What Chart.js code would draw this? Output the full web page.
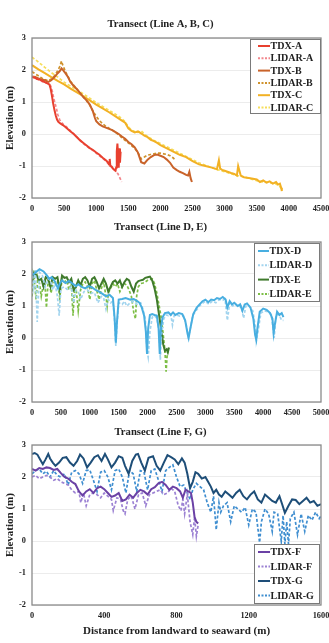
<!DOCTYPE html>
<html>
<head>
<meta charset="utf-8">
<script src="https://cdn.jsdelivr.net/npm/chart.js@4.4.1/dist/chart.umd.min.js"></script>
<style>
  html, body { margin: 0; padding: 0; background: #fff; }
  body { width: 329px; height: 643px; position: relative; overflow: hidden; }
  .box { position: absolute; left: 0; width: 329px; }
  #b1 { top: 0; height: 215px; }
  #b2 { top: 215px; height: 207px; }
  #b3 { top: 422px; height: 221px; }
</style>
</head>
<body>
<div class="box" id="b1"><canvas id="c1"></canvas></div>
<div class="box" id="b2"><canvas id="c2"></canvas></div>
<div class="box" id="b3"><canvas id="c3"></canvas></div>
<script>
// ---- Transect A, B, C ----
const tdxAx = [0,40,80,120,160,200,240,270,290,310,330,350,370,390,410,440,480,520,560,600,650,700,750,800,850,900,950,1000,1050,1100,1150,1180,1200,1210,1220,1240,1260,1280,1300,1310,1320,1330,1340,1350,1360,1370,1380];
const tdxAy = [1.78,1.76,1.72,1.70,1.66,1.62,1.58,1.55,1.42,1.2,0.95,0.75,0.58,0.45,0.38,0.33,0.28,0.22,0.15,0.08,0.0,-0.1,-0.2,-0.28,-0.36,-0.44,-0.5,-0.58,-0.65,-0.74,-0.82,-0.88,-0.95,-0.78,-1.0,-1.02,-1.08,-1.12,-1.15,-1.05,-0.55,-0.3,-0.65,-1.05,-0.45,-0.9,-0.55];
const lidarAx = [0,50,100,150,200,250,280,300,320,340,360,380,400,430,460,500,550,600,650,700,750,800,850,900,950,1000,1050,1100,1150,1200,1250,1300,1340,1370,1396];
const lidarAy = [1.8,1.75,1.7,1.65,1.6,1.58,1.55,1.45,1.3,1.1,0.95,0.8,0.62,0.45,0.36,0.28,0.2,0.1,0.0,-0.1,-0.2,-0.3,-0.38,-0.45,-0.52,-0.6,-0.68,-0.76,-0.85,-0.95,-1.05,-1.15,-1.25,-1.38,-1.5];
const tdxBx = [0,50,100,150,200,250,300,350,400,430,460,490,520,560,600,650,700,750,800,850,900,950,980,1000,1050,1100,1150,1200,1250,1300,1350,1400,1450,1500,1550,1600,1650,1700,1750,1800,1850,1900,1950,2000,2050,2100,2150,2200,2250,2300,2350,2400,2430,2450,2470,2490];
const tdxBy = [1.8,1.78,1.74,1.7,1.68,1.62,1.68,1.78,1.9,1.96,2.05,1.98,1.9,1.78,1.62,1.5,1.4,1.28,1.15,1.05,0.92,0.7,0.5,0.4,0.3,0.24,0.2,0.16,0.12,0.06,0.0,-0.08,-0.15,-0.25,-0.32,-0.42,-0.58,-0.88,-0.92,-0.8,-0.72,-0.66,-0.64,-0.68,-0.72,-0.8,-0.9,-1.05,-1.12,-1.18,-1.22,-1.28,-1.3,-1.18,-1.38,-1.5];
const lidarBx = [0,50,100,150,200,250,300,350,400,430,460,480,500,520,560,600,650,700,750,800,850,900,950,1000,1050,1100,1150,1200,1250,1300,1350,1400,1450,1500,1550,1600,1650,1700,1750,1800,1850,1900,1950,2000,2050,2100,2150,2200,2230];
const lidarBy = [1.95,1.88,1.82,1.75,1.7,1.66,1.72,1.82,1.98,2.1,2.28,2.15,2.05,1.95,1.8,1.65,1.52,1.4,1.28,1.16,1.04,0.9,0.72,0.55,0.42,0.32,0.24,0.18,0.12,0.05,-0.02,-0.12,-0.2,-0.28,-0.36,-0.45,-0.58,-0.78,-0.72,-0.66,-0.64,-0.62,-0.6,-0.6,-0.62,-0.64,-0.68,-0.75,-0.82];
const tdxCx = [0,100,200,300,400,500,600,700,800,900,1000,1100,1200,1300,1400,1450,1500,1550,1600,1650,1700,1750,1800,1850,1900,1950,2000,2100,2200,2300,2400,2500,2600,2700,2800,2880,2910,2930,2960,3000,3100,3150,3190,3210,3250,3300,3400,3500,3550,3600,3650,3700,3750,3800,3830,3860,3880,3890];
const tdxCy = [2.15,2.02,1.9,1.78,1.66,1.55,1.42,1.3,1.18,1.05,0.92,0.8,0.68,0.55,0.42,0.35,0.18,0.1,0.05,0.08,0.02,-0.05,-0.1,-0.18,-0.22,-0.28,-0.35,-0.45,-0.55,-0.65,-0.72,-0.85,-0.95,-1.0,-1.05,-1.1,-0.82,-1.08,-1.12,-1.15,-1.22,-1.25,-1.3,-1.0,-1.3,-1.35,-1.38,-1.42,-1.5,-1.45,-1.52,-1.48,-1.55,-1.5,-1.58,-1.55,-1.68,-1.78];
const lidarCx = [0,100,200,300,400,500,600,700,800,900,1000,1100,1200,1300,1400,1450,1500,1550,1600,1650,1700,1750,1800,1900,2000,2100,2200,2300,2400,2500,2600,2700,2800,2900,3000,3100,3200,3300,3400,3500,3600,3700,3800,3850,3880];
const lidarCy = [2.4,2.25,2.08,1.92,1.78,1.62,1.5,1.38,1.25,1.12,0.98,0.86,0.74,0.62,0.48,0.38,0.22,0.12,0.08,0.05,0.1,0.0,-0.08,-0.2,-0.3,-0.4,-0.5,-0.6,-0.7,-0.8,-0.9,-0.98,-1.05,-1.12,-1.18,-1.24,-1.3,-1.34,-1.4,-1.46,-1.5,-1.52,-1.56,-1.62,-1.7];

// ---- Transect D, E ----
const tdxDx = [0,60,130,200,260,300,340,400,450,480,520,580,640,700,760,800,860,920,980,1040,1100,1160,1220,1280,1340,1400,1430,1450,1470,1500,1560,1620,1700,1760,1820,1860,1900,1940,1970,1990,2010,2040,2080,2120,2160,2190,2210,2230,2260,2300,2360,2400,2440,2480,2540,2600,2650,2690,2710,2740,2790,2850,2900,2950,3000,3050,3100,3150,3200,3250,3300,3350,3380,3420,3460,3500,3560,3600,3640,3680,3720,3780,3830,3860,3880,3900,3940,4000,4060,4120,4160,4180,4200,4240,4280,4320,4350];
const tdxDy = [1.95,2.05,2.15,2.08,1.95,1.85,1.9,1.75,1.55,1.7,1.8,1.72,1.78,1.7,1.62,1.68,1.6,1.55,1.62,1.58,1.5,1.45,1.38,1.3,1.35,1.25,0.6,-0.15,0.5,1.2,1.22,1.25,1.2,1.22,1.15,1.1,0.95,0.7,0.2,-0.5,0.3,0.72,0.75,0.72,0.7,0.3,-0.5,0.3,0.65,0.78,0.8,0.72,0.8,0.72,0.78,0.75,0.55,0.15,0.0,0.3,0.75,0.95,1.05,1.15,1.2,1.12,1.2,1.18,1.25,1.22,1.28,1.2,0.95,1.15,1.05,1.1,1.0,1.05,0.85,1.05,1.08,0.95,0.6,0.1,-0.05,0.3,0.82,0.92,0.88,0.78,0.6,0.15,0.4,0.82,0.72,0.78,0.65];
const lidarDx = [0,30,60,90,130,180,230,280,320,360,400,440,470,500,560,620,680,720,760,800,840,900,960,1020,1080,1140,1200,1240,1280,1320,1360,1400,1430,1450,1470,1500,1560,1600,1640,1700,1760,1820,1880,1920,1960,1990,2010,2040,2080,2120,2160,2200,2220,2240,2280,2320,2360,2400,2430,2460,2500,2560,2620,2670,2700,2730,2780,2850,2900,2960,3000,3060,3120,3180,3240,3300,3340,3380,3420,3470,3520,3580,3620,3660,3700,3760,3820,3860,3880,3910,3960,4020,4080,4140,4170,4190,4220,4270,4320,4350];
const lidarDy = [2.1,1.6,2.15,0.5,2.05,1.95,1.6,1.85,1.8,1.5,1.7,1.3,0.7,1.55,1.6,1.5,1.6,1.1,1.5,1.45,1.2,1.45,1.5,1.4,1.42,1.1,1.3,1.25,0.9,1.2,1.1,1.15,0.5,-0.25,0.4,1.1,1.05,1.15,1.0,1.1,1.15,1.05,1.1,0.9,0.6,-0.4,-0.6,0.2,0.65,0.7,0.62,0.2,-0.68,0.1,0.6,0.72,0.7,0.75,0.4,0.7,0.72,0.68,0.7,0.4,0.05,0.2,0.7,0.88,1.0,1.1,1.15,1.05,1.15,1.1,1.2,1.18,1.22,0.55,1.1,1.0,1.05,0.95,1.0,0.62,1.0,1.0,0.85,0.4,-0.1,0.2,0.78,0.85,0.82,0.72,0.3,0.0,0.7,0.75,0.55,0.55];
const tdxEx = [0,40,80,120,160,200,240,280,320,360,400,440,480,520,560,600,640,680,720,760,800,840,880,920,960,1000,1040,1080,1120,1160,1200,1240,1280,1320,1360,1400,1440,1480,1520,1560,1600,1640,1680,1720,1760,1800,1840,1880,1920,1960,2000,2040,2080,2120,2160,2200,2240,2270,2300,2330,2350,2370];
const tdxEy = [1.75,2.05,1.95,1.8,1.85,1.6,1.9,1.85,1.6,1.9,1.85,1.9,1.5,1.95,1.88,1.9,1.75,1.85,1.5,1.6,1.8,1.65,1.85,1.9,1.8,1.6,1.85,1.9,1.75,1.55,1.7,1.85,1.7,1.45,1.6,1.75,1.8,1.7,1.8,1.6,1.75,1.85,1.8,1.6,1.45,1.7,1.78,1.8,1.82,1.88,1.9,1.92,1.8,1.55,1.2,0.7,0.2,-0.2,-0.4,-0.35,-0.45,-0.3];
const lidarEx = [0,20,40,70,100,130,160,190,220,250,280,300,330,360,400,440,480,520,560,600,640,680,710,730,760,800,840,880,920,960,1000,1040,1080,1120,1160,1200,1240,1280,1300,1320,1360,1400,1440,1480,1520,1560,1600,1640,1680,1720,1760,1790,1810,1840,1880,1920,1960,2000,2040,2080,2120,2160,2200,2240,2270,2300,2320,2340,2360];
const lidarEy = [1.3,2.0,1.85,1.2,1.9,1.7,1.3,1.6,1.8,0.95,1.8,1.75,1.4,1.7,1.75,1.8,1.25,1.85,1.75,1.8,1.5,1.7,0.7,1.4,1.6,0.85,1.5,1.7,1.75,1.6,1.2,1.7,1.8,1.5,1.2,1.55,1.75,1.3,1.0,1.4,1.55,1.7,1.6,1.7,1.45,1.6,1.7,1.65,1.5,1.3,0.8,0.6,1.3,1.6,1.7,1.72,1.75,1.8,1.82,1.85,1.7,1.4,1.0,0.6,0.1,-0.4,-1.05,-0.5,-0.35];

// ---- Transect F, G ----
const tdxFx = [0,20,40,60,80,100,120,140,160,180,200,220,240,260,280,300,320,340,360,380,400,420,440,460,480,500,520,540,560,580,600,620,640,660,680,700,720,740,760,780,800,820,835,850,865,880,890,900,910,920];
const tdxFy = [2.25,2.2,2.28,2.25,2.3,2.28,2.22,2.25,2.12,2.0,1.95,1.85,1.78,1.55,1.42,1.55,1.62,1.5,1.65,1.7,1.62,1.5,1.38,1.42,1.5,1.25,1.3,1.45,1.35,1.5,1.6,1.55,1.45,1.62,1.68,1.8,1.85,1.75,1.6,1.7,1.65,1.55,1.35,1.6,1.55,1.5,1.2,0.75,0.6,0.55];
const lidarFx = [0,20,40,60,80,100,120,140,160,180,200,220,240,260,270,285,300,320,340,360,380,400,420,440,450,470,490,505,515,530,550,570,590,610,630,650,670,690,710,730,750,770,790,810,825,835,845,860,875,890,900,910,920];
const lidarFy = [2.0,2.05,1.95,2.0,2.05,2.0,1.9,1.95,1.85,1.8,1.75,1.6,1.5,1.55,1.2,1.5,1.1,1.45,1.5,1.45,1.35,1.5,1.4,1.3,0.95,1.35,1.3,0.95,0.85,1.3,1.4,1.0,1.45,1.5,1.1,1.45,1.5,1.55,1.6,1.45,1.5,1.65,1.55,1.1,0.95,1.3,0.85,1.45,0.6,0.2,0.75,0.15,0.5];
const tdxGx = [0,15,30,45,60,75,90,100,115,130,150,170,190,210,230,250,266,285,305,325,345,365,385,404,420,440,460,480,500,515,535,555,575,587,605,625,645,670,690,710,730,750,770,790,810,830,845,860,875,890,905,920,940,960,975,990,1005,1020,1035,1050,1070,1090,1110,1130,1150,1170,1190,1210,1230,1250,1270,1290,1310,1330,1350,1370,1385,1400,1420,1440,1460,1480,1500,1520,1540,1560,1580,1600];
const tdxGy = [2.72,2.75,2.7,2.55,2.4,2.55,2.72,2.58,2.45,2.35,2.45,2.6,2.62,2.45,2.35,2.5,2.7,2.58,2.3,2.45,2.62,2.68,2.5,2.72,2.55,2.3,2.45,2.65,2.6,2.35,2.1,2.5,2.7,2.72,2.45,2.2,2.6,2.65,2.35,2.2,2.45,2.68,2.62,2.55,2.4,2.58,2.45,2.1,1.65,1.85,2.15,2.1,1.95,2.0,1.85,1.7,1.5,1.6,1.45,1.38,1.55,1.45,1.35,1.5,1.6,1.4,1.3,1.45,1.55,1.3,1.2,1.45,1.35,1.25,1.2,1.4,1.15,0.88,1.1,1.3,1.28,1.15,1.25,1.35,1.2,1.25,1.1,1.15];
const lidarGx = [0,20,40,60,80,100,120,140,160,180,200,220,240,260,280,300,320,340,360,380,400,420,440,460,480,500,520,540,560,580,600,620,640,660,680,700,720,740,760,780,800,820,840,860,875,890,910,930,950,970,990,1005,1020,1035,1045,1060,1080,1100,1120,1140,1160,1180,1200,1220,1240,1260,1270,1290,1310,1330,1340,1360,1380,1390,1400,1410,1420,1430,1450,1470,1490,1510,1530,1550,1570,1590,1600];
const lidarGy = [2.1,2.2,2.25,2.1,2.18,2.0,2.2,2.05,2.0,2.1,1.75,2.15,2.2,2.1,1.8,2.2,2.22,1.9,1.55,2.15,2.2,2.0,1.6,2.2,2.25,2.0,1.5,2.2,2.1,1.55,2.2,2.15,1.6,2.2,2.25,1.9,1.55,2.2,2.3,2.38,2.0,1.7,1.75,1.5,1.3,1.6,1.8,1.7,1.6,1.2,0.9,1.4,0.35,1.2,0.9,1.1,1.2,0.6,1.1,1.0,0.9,1.05,0.5,1.0,0.9,-0.05,0.6,1.0,0.85,0.3,0.9,0.85,0.0,0.8,-0.1,0.6,-0.1,0.7,0.9,0.2,0.85,0.3,0.8,0.65,0.9,0.7,0.78];

const yTicks = [-2, -1, 0, 1, 2, 3];

const SERIF = "'Liberation Serif', 'Times New Roman', serif";
const INK = '#222';

function pts(xs, ys) {
  return xs.map((x, i) => ({ x: x, y: ys[i] }));
}

function tdx(label, xs, ys, color) {
  return { label, data: pts(xs, ys), borderColor: color, backgroundColor: color,
           borderWidth: 2, pointRadius: 0, tension: 0 };
}
function lidar(label, xs, ys, color) {
  return { label, data: pts(xs, ys), borderColor: color, backgroundColor: color,
           borderWidth: 1.7, borderDash: [3, 2], pointRadius: 0, tension: 0 };
}

// grey frame round the plot area
const framePlugin = {
  id: 'frame',
  afterDatasetsDraw(chart) {
    const a = chart.chartArea, ctx = chart.ctx;
    ctx.save();
    ctx.strokeStyle = '#8a8a8a';
    ctx.lineWidth = 1.3;
    ctx.strokeRect(a.left, a.top, a.right - a.left, a.bottom - a.top);
    ctx.restore();
  }
};

// boxed legend inside the plot area
const boxLegend = {
  id: 'boxLegend',
  afterDraw(chart, args, opts) {
    const a = chart.chartArea, ctx = chart.ctx;
    const sets = chart.data.datasets;
    const w = opts.width, h = opts.height;
    const x0 = a.right - opts.right - w;
    const y0 = opts.bottom != null ? a.bottom - opts.bottom - h : a.top + opts.top;
    ctx.save();
    ctx.fillStyle = '#fff';
    ctx.fillRect(x0, y0, w, h);
    ctx.strokeStyle = '#7a7a7a';
    ctx.lineWidth = 1;
    ctx.strokeRect(x0 + 0.5, y0 + 0.5, w, h);
    ctx.font = 'bold 10px ' + SERIF;
    ctx.textBaseline = 'middle';
    sets.forEach((ds, i) => {
      const cy = y0 + opts.first + i * opts.step;
      ctx.strokeStyle = ds.borderColor;
      ctx.lineWidth = 2;
      ctx.setLineDash(ds.borderDash ? [2, 1.5] : []);
      ctx.beginPath();
      ctx.moveTo(x0 + opts.lineFrom, cy);
      ctx.lineTo(x0 + opts.lineTo, cy);
      ctx.stroke();
      ctx.setLineDash([]);
      ctx.fillStyle = INK;
      ctx.fillText(ds.label, x0 + opts.lineTo + 0.5, cy + 0.5);
    });
    ctx.restore();
  }
};

function makeChart(id, cfg) {
  return new Chart(document.getElementById(id), {
    type: 'line',
    data: { datasets: cfg.datasets },
    options: {
      responsive: true,
      maintainAspectRatio: false,
      animation: false,
      layout: { padding: { left: 0, right: 8, top: 0, bottom: 0 } },
      plugins: {
        legend: { display: false },
        tooltip: { enabled: false },
        title: {
          display: true, text: cfg.title, color: INK,
          font: { family: SERIF, size: 10.7, weight: 'bold' },
          padding: cfg.titlePad
        },
        boxLegend: cfg.legend
      },
      scales: {
        x: {
          type: 'linear', min: 0, max: cfg.xMax,
          afterFit: s => { s.height = cfg.xHeight; s.paddingRight = 8; s.paddingLeft = 0; },
          afterBuildTicks: s => { s.ticks = cfg.xTicks.map(v => ({ value: v })); },
          grid: { display: false, drawTicks: false },
          border: { display: false },
          ticks: { color: INK, padding: 6, maxRotation: 0, autoSkip: false,
                   callback: v => String(v),
                   font: { family: SERIF, size: 8.3, weight: 'bold' } },
          title: cfg.xTitle ? {
            display: true, text: cfg.xTitle, color: INK,
            font: { family: SERIF, size: 11, weight: 'bold' },
            padding: { top: 0, bottom: 5.4 }
          } : { display: false }
        },
        y: {
          min: -2, max: 3,
          afterFit: s => { s.width = 32; },
          afterBuildTicks: s => { s.ticks = yTicks.map(v => ({ value: v })); },
          grid: { color: '#ececec', lineWidth: 1, drawTicks: false },
          border: { display: false },
          ticks: { color: INK, padding: 6, callback: v => String(v),
                   font: { family: SERIF, size: 8.3, weight: 'bold' } },
          title: {
            display: true, text: 'Elevation (m)', color: INK,
            font: { family: SERIF, size: 11, weight: 'bold' },
            padding: { top: 3.4, bottom: 0 }
          }
        }
      }
    },
    plugins: [framePlugin, boxLegend]
  });
}

makeChart('c1', {
  title: 'Transect (Line A, B, C)',
  titlePad: { top: 17.6, bottom: 7.56 },
  xMax: 4500, xTicks: [0,500,1000,1500,2000,2500,3000,3500,4000,4500], xHeight: 17,
  legend: { width: 70, height: 74, right: 1, top: 1, first: 7, step: 12.3, lineFrom: 8, lineTo: 20 },
  datasets: [
    tdx('TDX-A', tdxAx, tdxAy, '#e8402f'),
    lidar('LIDAR-A', lidarAx, lidarAy, '#f2868c'),
    tdx('TDX-B', tdxBx, tdxBy, '#c9632a'),
    lidar('LIDAR-B', lidarBx, lidarBy, '#cf922c'),
    tdx('TDX-C', tdxCx, tdxCy, '#f2b124'),
    lidar('LIDAR-C', lidarCx, lidarCy, '#f6de5a')
  ]
});

makeChart('c2', {
  title: 'Transect (Line D, E)',
  titlePad: { top: 5.9, bottom: 8.26 },
  xMax: 5000, xTicks: [0,500,1000,1500,2000,2500,3000,3500,4000,4500,5000], xHeight: 20,
  legend: { width: 65, height: 58, right: 2, top: 1, first: 8, step: 14.3, lineFrom: 4, lineTo: 15 },
  datasets: [
    tdx('TDX-D', tdxDx, tdxDy, '#48aee0'),
    lidar('LIDAR-D', lidarDx, lidarDy, '#a2d4ee'),
    tdx('TDX-E', tdxEx, tdxEy, '#3f7a2c'),
    lidar('LIDAR-E', lidarEx, lidarEy, '#7dbe46')
  ]
});

makeChart('c3', {
  title: 'Transect (Line F, G)',
  titlePad: { top: 3.9, bottom: 6.26 },
  xMax: 1600, xTicks: [0,400,800,1200,1600], xHeight: 38,
  xTitle: 'Distance from landward to seaward (m)',
  legend: { width: 65, height: 59, right: 2, bottom: 2, first: 8, step: 14.5, lineFrom: 4, lineTo: 16 },
  datasets: [
    tdx('TDX-F', tdxFx, tdxFy, '#6b41a5'),
    lidar('LIDAR-F', lidarFx, lidarFy, '#9c82d3'),
    tdx('TDX-G', tdxGx, tdxGy, '#1e4e78'),
    lidar('LIDAR-G', lidarGx, lidarGy, '#3f8ed0')
  ]
});
</script>
</body>
</html>
